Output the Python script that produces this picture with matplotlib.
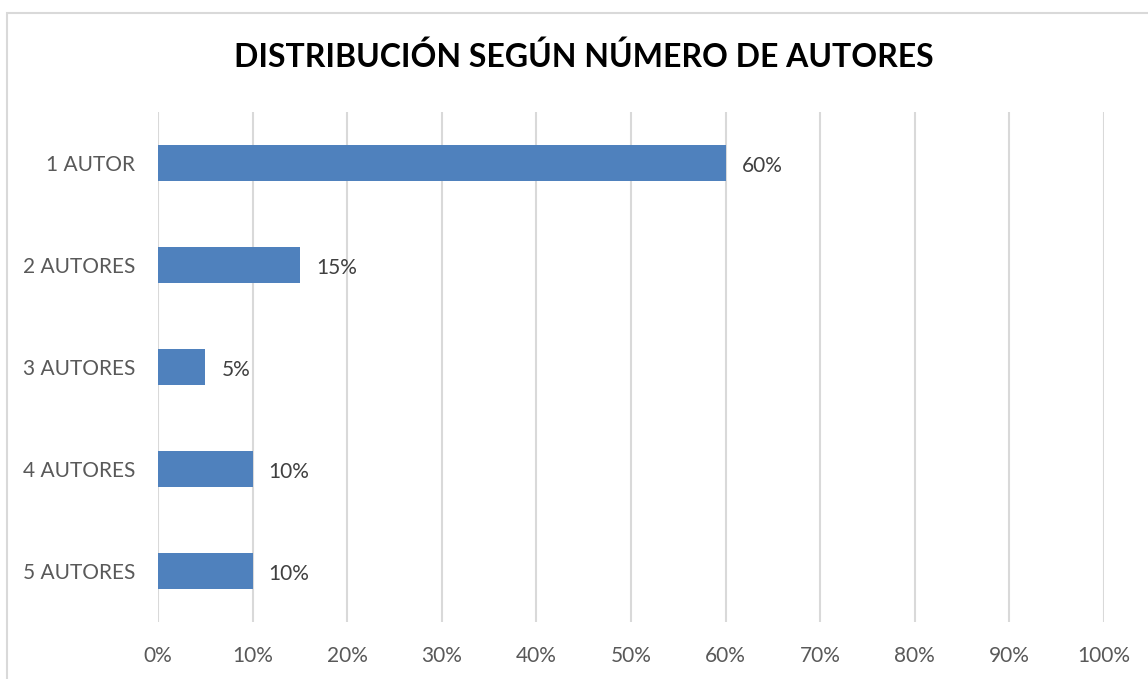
import matplotlib.pyplot as plt
from matplotlib.patches import Rectangle
from matplotlib.ticker import PercentFormatter
import numpy as np

categories = ['1 AUTOR', '2 AUTORES', '3 AUTORES', '4 AUTORES', '5 AUTORES']
values = [60, 15, 5, 10, 10]
xticks = list(range(0, 101, 10))

plt.rcParams['font.family'] = ['Lato', 'DejaVu Sans']

W, H = 1148, 679
fig = plt.figure(figsize=(W / 100, H / 100), dpi=100)
ax = fig.add_axes([158 / W, 1 - 622 / H, (1104 - 158) / W, (622 - 112) / H])

# Outer chart border
fig.patches.append(Rectangle((7 / W, -0.05), 1.1, 1 - 13 / H + 0.05,
                             transform=fig.transFigure, fill=False,
                             edgecolor='#d9d9d9', linewidth=1.5))

y = np.arange(len(categories))
ax.barh(y, values, height=0.35, color='#4f81bd', zorder=3)

for yi, v in zip(y, values):
    ax.annotate(f'{v}%', (v, yi), xytext=(16, -3), textcoords='offset pixels',
                va='center', ha='left', fontsize=15, color='#404040')

ax.set_xlim(0, 100)
ax.set_ylim(len(categories) - 0.5, -0.5)
ax.set_xticks(xticks)
ax.xaxis.set_major_formatter(PercentFormatter(decimals=0))
ax.set_yticks(y)
ax.set_yticklabels(categories)
ax.tick_params(axis='both', length=0, labelsize=15, colors='#595959')
ax.tick_params(axis='x', pad=17)
ax.tick_params(axis='y', pad=16.5)

ax.grid(axis='x', color='#d9d9d9', linewidth=1.5, zorder=0)
ax.set_axisbelow(True)
for s in ax.spines.values():
    s.set_visible(False)

fig.text(584 / W, 1 - 57 / H, 'DISTRIBUCIÓN SEGÚN NÚMERO DE AUTORES',
         ha='center', va='center', fontsize=23, fontweight='bold', color='black')

plt.savefig('out.png', dpi=100)
plt.close()
